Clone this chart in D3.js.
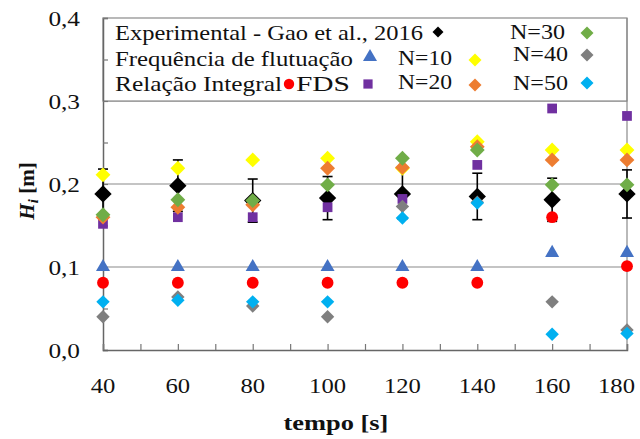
<!DOCTYPE html>
<html>
<head>
<meta charset="utf-8">
<script src="https://cdn.jsdelivr.net/npm/d3@7"></script>
<style>
  body { margin: 0; background: #fff; }
  svg text { font-family: "Liberation Serif", "Times New Roman", serif; fill: #111; }
</style>
</head>
<body>
<div id="chart"></div>
<script>
// time steps [s]
var tempo = [40, 60, 80, 100, 120, 140, 160, 180];

// Hi [m] per series
var experimental = [0.188, 0.198, 0.180, 0.183, 0.188, 0.185, 0.181, 0.188];
var expError     = [0.030, 0.031, 0.026, 0.026, 0.030, 0.028, 0.026, 0.029];
var frequencia   = [0.100, 0.100, 0.100, 0.100, 0.100, 0.100, 0.117, 0.117];
var relacao      = [0.081, 0.081, 0.081, 0.081, 0.081, 0.081, 0.160, 0.101];
var fds          = [0.152, 0.160, 0.160, 0.172, 0.182, 0.223, 0.291, 0.282];
var n10          = [0.211, 0.219, 0.229, 0.231, 0.219, 0.251, 0.241, 0.241];
var n20          = [0.160, 0.172, 0.175, 0.219, 0.220, 0.245, 0.229, 0.229];
var n30          = [0.163, 0.181, 0.180, 0.199, 0.231, 0.241, 0.199, 0.199];
var n40          = [0.040, 0.064, 0.053, 0.040, 0.173, 0.178, 0.058, 0.024];
var n50          = [0.058, 0.060, 0.058, 0.058, 0.159, 0.177, 0.019, 0.020];

var yTicks = [0, 0.1, 0.2, 0.3, 0.4];
var xTicks = [40, 60, 80, 100, 120, 140, 160, 180];

var width = 640, height = 439;
var svg = d3.select("#chart").append("svg")
  .attr("width", width).attr("height", height)
  .attr("font-family", "Liberation Serif");

var x = d3.scaleLinear().domain([40, 180]).range([103, 627]);
var y = d3.scaleLinear().domain([0, 0.4]).range([350, 18]);
var fmt = function(d) { return d3.format(".1f")(d).replace(".", ","); };

// widen glyphs a little, the original figure is stretched horizontally
function stretch(sel, k) {
  sel.each(function() {
    var w = this.getComputedTextLength();
    d3.select(this).attr("textLength", w * k).attr("lengthAdjust", "spacingAndGlyphs");
  });
}

// gridlines
svg.append("g").selectAll("line")
  .data([0.1, 0.2, 0.3])
  .enter().append("line")
  .attr("x1", x(40)).attr("x2", x(180))
  .attr("y1", function(d) { return y(d); }).attr("y2", function(d) { return y(d); })
  .attr("stroke", "#8a8a8a").attr("stroke-width", 1.2);

// legend box (top band of plot)
svg.append("rect")
  .attr("x", x(40)).attr("y", y(0.4))
  .attr("width", x(180) - x(40)).attr("height", y(0.3) - y(0.4))
  .attr("fill", "#fff").attr("stroke", "#8a8a8a").attr("stroke-width", 1.2);

// right border
svg.append("line")
  .attr("x1", x(180)).attr("x2", x(180)).attr("y1", y(0.4)).attr("y2", y(0))
  .attr("stroke", "#8a8a8a").attr("stroke-width", 1.2);

// axes (inner ticks, minor every half step)
var yAxis = d3.axisRight(y).tickValues(d3.range(0, 0.401, 0.05)).tickSize(5).tickFormat("");
var xAxis = d3.axisTop(x).tickValues(d3.range(40, 181, 10)).tickSize(6).tickFormat("");
var gy = svg.append("g").attr("transform", "translate(" + x(40) + ",0)").call(yAxis);
var gx = svg.append("g").attr("transform", "translate(0," + y(0) + ")").call(xAxis);
[gy, gx].forEach(function(g) {
  g.select(".domain").attr("stroke", "#666").attr("stroke-width", 1.5);
  g.selectAll(".tick line").attr("stroke", "#777").attr("stroke-width", 1.2);
});

svg.append("g").selectAll("text")
  .data(yTicks).enter().append("text")
  .attr("x", 80).attr("y", function(d) { return y(d); })
  .attr("dy", "0.35em").attr("text-anchor", "end")
  .style("font-size", "22px")
  .text(fmt)
  .call(stretch, 1.15);

svg.append("g").selectAll("text")
  .data(xTicks).enter().append("text")
  .attr("x", function(d, i) { return i === xTicks.length - 1 ? 635 : x(d); })
  .attr("y", 385)
  .attr("dy", "0.35em").attr("text-anchor", function(d, i) { return i === xTicks.length - 1 ? "end" : "middle"; })
  .style("font-size", "22px")
  .text(function(d) { return d; })
  .call(stretch, 1.12);

// axis titles
svg.append("text")
  .attr("x", 336).attr("y", 422).attr("dy", "0.35em")
  .attr("text-anchor", "middle")
  .style("font-size", "22px").style("font-weight", "bold")
  .text("tempo [s]")
  .call(stretch, 1.2);

var yl = svg.append("text")
  .attr("transform", "translate(27,191) rotate(-90)")
  .attr("dy", "0.35em").attr("text-anchor", "middle")
  .style("font-size", "21px").style("font-weight", "bold");
yl.append("tspan").style("font-style", "italic").text("H");
yl.append("tspan").style("font-style", "italic").style("font-size", "15px").attr("dy", "4").text("i");
yl.append("tspan").attr("dy", "-4").text(" [m]");

var series = [
  { name: "Experimental - Gao et al., 2016", values: experimental, shape: "diamond", size: 150, color: "#000" },
  { name: "Frequência de flutuação", values: frequencia, shape: "triangle", size: 85, color: "#4472c4" },
  { name: "Relação Integral", values: relacao, shape: "circle", size: 110, color: "#ff0000" },
  { name: "FDS", values: fds, shape: "square", size: 95, color: "#7030a0" },
  { name: "N=10", values: n10, shape: "diamond", size: 110, color: "#ffff00" },
  { name: "N=20", values: n20, shape: "diamond", size: 110, color: "#ed7d31" },
  { name: "N=30", values: n30, shape: "diamond", size: 110, color: "#70ad47" },
  { name: "N=40", values: n40, shape: "diamond", size: 90, color: "#7f7f7f" },
  { name: "N=50", values: n50, shape: "diamond", size: 90, color: "#00b0f0" }
];

var shapes = { diamond: d3.symbolSquare, triangle: d3.symbolTriangle, circle: d3.symbolCircle, square: d3.symbolSquare };
function symPath(shape, size) {
  return d3.symbol().type(shapes[shape]).size(size)();
}
function symTransform(shape, cx, cy) {
  return "translate(" + cx + "," + cy + ")" + (shape === "diamond" ? " rotate(45)" : "");
}

// error bars (experimental)
var eb = svg.append("g").attr("stroke", "#000").attr("stroke-width", 1.6);
tempo.forEach(function(t, i) {
  var v = experimental[i], e = expError[i];
  eb.append("line").attr("x1", x(t)).attr("x2", x(t)).attr("y1", y(v - e)).attr("y2", y(v + e));
  [v - e, v + e].forEach(function(c) {
    eb.append("line").attr("x1", x(t) - 5).attr("x2", x(t) + 5).attr("y1", y(c)).attr("y2", y(c));
  });
});

// points
series.forEach(function(s) {
  svg.append("g").selectAll("path")
    .data(tempo).enter().append("path")
    .attr("d", symPath(s.shape, s.size))
    .attr("transform", function(t, i) { return symTransform(s.shape, x(t), y(s.values[i])); })
    .attr("fill", s.color);
});

// legend
var legendLayout = [
  { s: 0, tx: 115, ty: 33, w: 308, mx: 438, my: 32 },
  { s: 1, tx: 115, ty: 59, w: 238, mx: 370, my: 57 },
  { s: 2, tx: 115, ty: 84, w: 167, mx: 289, my: 84 },
  { s: 3, tx: 296, ty: 84, w: 54, mx: 368, my: 84 },
  { s: 4, tx: 398, ty: 58, w: 54, mx: 475, my: 60 },
  { s: 5, tx: 398, ty: 82, w: 54, mx: 475, my: 85 },
  { s: 6, tx: 510, ty: 32, w: 55, mx: 587, my: 33 },
  { s: 7, tx: 513, ty: 54, w: 55, mx: 587, my: 55 },
  { s: 8, tx: 513, ty: 83, w: 55, mx: 587, my: 83 }
];
var lg = svg.append("g");
legendLayout.forEach(function(l) {
  var s = series[l.s];
  lg.append("text").attr("x", l.tx).attr("y", l.ty).attr("dy", "0.35em")
    .style("font-size", "21px")
    .attr("textLength", l.w).attr("lengthAdjust", "spacingAndGlyphs")
    .text(s.name);
  lg.append("path")
    .attr("d", symPath(s.shape, l.s === 0 ? 60 : 85))
    .attr("transform", symTransform(s.shape, l.mx, l.my))
    .attr("fill", s.color);
});
</script>
</body>
</html>
